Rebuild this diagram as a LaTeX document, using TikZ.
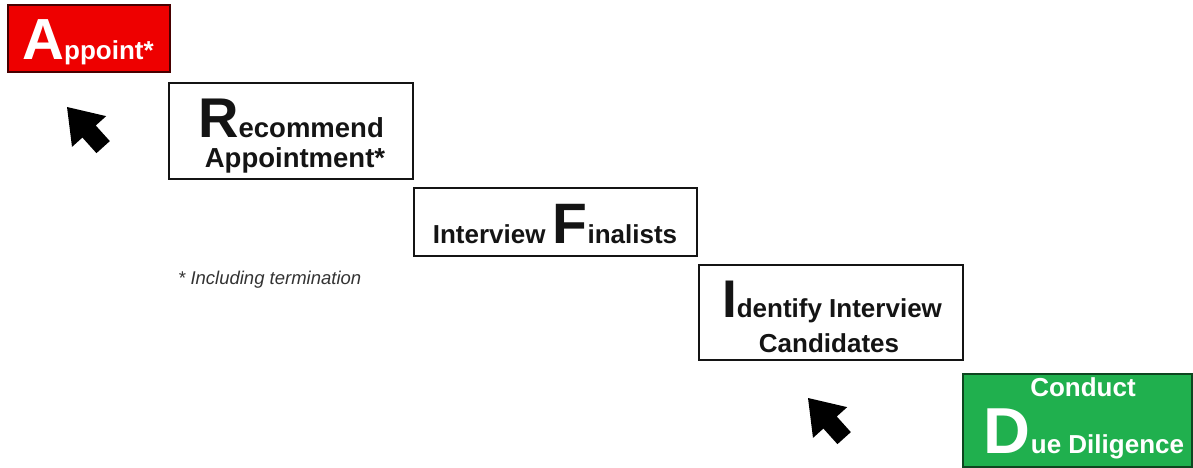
\documentclass[tikz,border=0pt]{standalone}
\usepackage{fontspec}
\setmainfont{Liberation Sans}
\definecolor{apred}{RGB}{238,0,0}
\definecolor{ddgreen}{RGB}{32,176,78}
\definecolor{ink}{RGB}{20,20,20}
\newcommand\capL[2]{{\fontsize{#1}{#1}\selectfont #2}}
\begin{document}
\begin{tikzpicture}[x=1pt,y=-1pt,
  stepbox/.style={draw=ink, line width=1.4pt, inner sep=0pt},
  txt/.style={inner sep=0pt, text=ink, font=\fontsize{26}{30}\selectfont\bfseries},
  wtxt/.style={txt, text=white},
  note/.style={inner sep=0pt, text=black!80, font=\fontsize{18.5}{22}\selectfont\itshape},
  tiparrow/.pic={\fill[black, rotate=132] (0pt,0pt) -- (-33pt,23pt) -- (-33pt,9pt) -- (-54pt,9pt) -- (-54pt,-9pt) -- (-33pt,-9pt) -- (-33pt,-23pt) -- cycle;}]
\useasboundingbox (0,0) rectangle (1193,468);
% boxes
\node[stepbox, fill=apred, draw=black!70!apred, minimum width=162pt, minimum height=67pt] (appbox) at (89,38.5) {};
\node[stepbox, minimum width=244pt, minimum height=96pt] (recbox) at (291,131) {};
\node[stepbox, minimum width=283pt, minimum height=68pt] (finbox) at (555.5,222) {};
\node[stepbox, minimum width=264pt, minimum height=95pt] (idbox) at (831,312.5) {};
\node[stepbox, fill=ddgreen, draw=black!60!ddgreen, minimum width=229pt, minimum height=93pt] (ddbox) at (1077.5,420.5) {};
% texts
\node[wtxt, anchor=base] (apptxt) at (88,60) {\capL{58}{A}ppoint*};
\node[txt, anchor=base, font=\fontsize{27.5}{30}\selectfont\bfseries] (rectxt1) at (291,137) {\capL{56}{R}ecommend};
\node[txt, anchor=base, font=\fontsize{27.5}{30}\selectfont\bfseries] (rectxt2) at (295,167) {Appointment*};
\node[txt, anchor=base] (fintxt) at (555,243) {Interview \capL{57}{F}inalists};
\node[txt, anchor=base] (idtxt1) at (832,317) {\capL{53}{I}dentify Interview};
\node[txt, anchor=base] (idtxt2) at (829,352) {Candidates};
\node[wtxt, anchor=base] (ddtxt1) at (1083,396) {Conduct};
\node[wtxt, anchor=base] (ddtxt2) at (1084,453) {\capL{65}{D}ue Diligence};
\node[note, anchor=base west] (fn) at (178,284) {* Including termination};
% arrows
\pic at (67,107) {tiparrow};
\pic at (808,398) {tiparrow};
\end{tikzpicture}
\end{document}
